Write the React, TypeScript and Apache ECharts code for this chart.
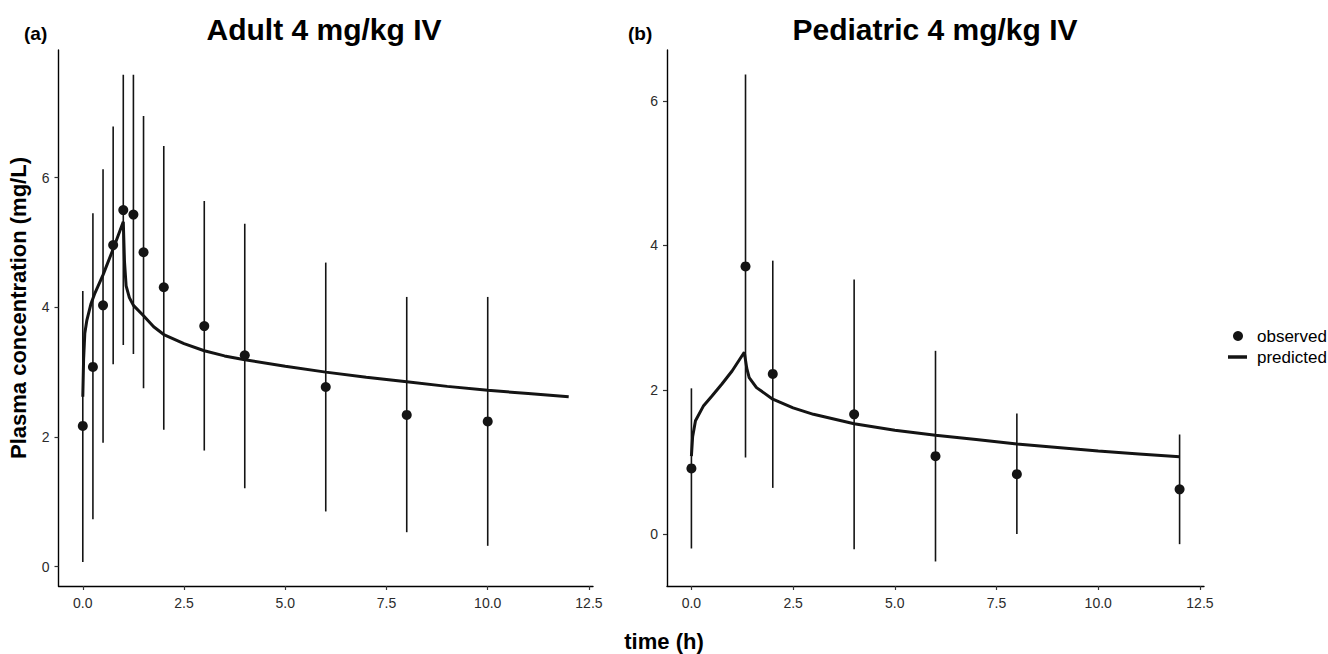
import React, { useEffect, useRef } from "react";
import * as echarts from "echarts";

// Adult 4 mg/kg IV — observed
const adultTime = [0, 0.25, 0.5, 0.75, 1, 1.25, 1.5, 2, 3, 4, 6, 8, 10];
const adultMean = [2.17, 3.08, 4.03, 4.96, 5.5, 5.43, 4.85, 4.31, 3.71, 3.26, 2.77, 2.34, 2.24];
const adultLow = [0.07, 0.73, 1.91, 3.12, 3.42, 3.28, 2.75, 2.11, 1.79, 1.21, 0.85, 0.53, 0.32];
const adultHigh = [4.25, 5.45, 6.13, 6.79, 7.59, 7.59, 6.95, 6.49, 5.64, 5.29, 4.69, 4.16, 4.16];

// Adult predicted
const adultPredTime = [0, 0.02, 0.05, 0.1, 0.2, 0.3, 0.5, 0.75, 1.0, 1.03, 1.07, 1.15, 1.25, 1.5, 1.75, 2, 2.5, 3, 3.5, 4, 5, 6, 7, 8, 9, 10, 11, 12];
const adultPred = [2.62, 3.2, 3.6, 3.8, 4.05, 4.22, 4.5, 4.9, 5.32, 4.7, 4.33, 4.15, 4.03, 3.87, 3.7, 3.58, 3.44, 3.33, 3.25, 3.19, 3.09, 3.0, 2.92, 2.85, 2.78, 2.72, 2.67, 2.62];

// Pediatric 4 mg/kg IV — observed
const pedTime = [0, 1.33, 2, 4, 6, 8, 12];
const pedMean = [0.91, 3.71, 2.22, 1.66, 1.08, 0.83, 0.62];
const pedLow = [-0.2, 1.06, 0.64, -0.21, -0.38, 0.0, -0.14];
const pedHigh = [2.02, 6.37, 3.79, 3.53, 2.54, 1.67, 1.38];

// Pediatric predicted
const pedPredTime = [0, 0.03, 0.1, 0.3, 0.5, 0.75, 1.0, 1.3, 1.36, 1.42, 1.6, 2, 2.5, 3, 4, 5, 6, 7, 8, 9, 10, 11, 12];
const pedPred = [1.08, 1.35, 1.57, 1.78, 1.91, 2.08, 2.26, 2.52, 2.3, 2.17, 2.03, 1.87, 1.75, 1.66, 1.53, 1.44, 1.37, 1.31, 1.25, 1.2, 1.15, 1.11, 1.07];

const xTicks = [0, 2.5, 5, 7.5, 10, 12.5];
const yTicks = [0, 2, 4, 6];

const FONT = "Liberation Sans";
const INK = "#141414";

function makeXAxis(gridIndex: number) {
  return {
    type: "value",
    gridIndex,
    min: -0.6,
    max: 12.6,
    splitLine: { show: false },
    axisLine: { show: true, onZero: false, lineStyle: { color: "#000", width: 1.4 } },
    axisTick: { show: true, length: 4, lineStyle: { color: "#333", width: 1.2 }, customValues: xTicks },
    axisLabel: {
      customValues: xTicks,
      formatter: (v: number) => v.toFixed(1),
      fontSize: 14,
      color: "#2b2b2b",
      margin: 10,
      fontFamily: FONT,
    },
  };
}

function makeYAxis(gridIndex: number, min: number, max: number) {
  return {
    type: "value",
    gridIndex,
    min,
    max,
    splitLine: { show: false },
    axisLine: { show: true, onZero: false, lineStyle: { color: "#000", width: 1.4 } },
    axisTick: { show: true, length: 4, lineStyle: { color: "#333", width: 1.2 }, customValues: yTicks },
    axisLabel: {
      customValues: yTicks,
      formatter: (v: number) => String(v),
      fontSize: 14,
      color: "#2b2b2b",
      margin: 9,
      fontFamily: FONT,
    },
  };
}

function errorSeries(idx: number, t: number[], lo: number[], hi: number[]) {
  return {
    type: "custom",
    xAxisIndex: idx,
    yAxisIndex: idx,
    data: t.map((x, i) => [x, lo[i], hi[i]]),
    encode: { x: 0, y: [1, 2] },
    silent: true,
    renderItem: (params: any, api: any) => {
      const x = api.value(0);
      const p1 = api.coord([x, api.value(1)]);
      const p2 = api.coord([x, api.value(2)]);
      return {
        type: "line",
        shape: { x1: p1[0], y1: p1[1], x2: p2[0], y2: p2[1] },
        style: { stroke: INK, lineWidth: 1.6 },
      };
    },
  };
}

function lineSeries(idx: number, t: number[], v: number[]) {
  return {
    type: "line",
    name: "predicted",
    xAxisIndex: idx,
    yAxisIndex: idx,
    data: t.map((x, i) => [x, v[i]]),
    showSymbol: false,
    smooth: false,
    lineStyle: { color: INK, width: 3, opacity: 1 },
    itemStyle: { color: INK },
    z: 3,
  };
}

function scatterSeries(idx: number, t: number[], v: number[]) {
  return {
    type: "scatter",
    name: "observed",
    xAxisIndex: idx,
    yAxisIndex: idx,
    data: t.map((x, i) => [x, v[i]]),
    symbol: "circle",
    symbolSize: 10,
    itemStyle: { color: INK, opacity: 1 },
    z: 4,
  };
}

export default function App() {
  const ref = useRef<HTMLDivElement>(null);
  useEffect(() => {
    if (!ref.current) return;
    const chart = echarts.init(ref.current, null, { renderer: "svg" });
    chart.setOption({
      animation: false,
      backgroundColor: "#fff",
      grid: [
        { left: 58.5, top: 50, width: 534.5, height: 536 },
        { left: 667, top: 50, width: 537, height: 536 },
      ],
      xAxis: [makeXAxis(0), makeXAxis(1)],
      yAxis: [makeYAxis(0, -0.3, 7.97), makeYAxis(1, -0.72, 6.71)],
      series: [
        errorSeries(0, adultTime, adultLow, adultHigh),
        lineSeries(0, adultPredTime, adultPred),
        scatterSeries(0, adultTime, adultMean),
        errorSeries(1, pedTime, pedLow, pedHigh),
        lineSeries(1, pedPredTime, pedPred),
        scatterSeries(1, pedTime, pedMean),
      ],
      graphic: [
        { type: "text", x: 324, y: 29, style: { text: "Adult 4 mg/kg IV", fontSize: 30, fontWeight: "bold", fontFamily: FONT, fill: "#000", textAlign: "center", textVerticalAlign: "middle" } },
        { type: "text", x: 935, y: 29, style: { text: "Pediatric 4 mg/kg IV", fontSize: 30, fontWeight: "bold", fontFamily: FONT, fill: "#000", textAlign: "center", textVerticalAlign: "middle" } },
        { type: "text", x: 24, y: 33, style: { text: "(a)", fontSize: 19, fontWeight: "bold", fontFamily: FONT, fill: "#000", textAlign: "left", textVerticalAlign: "middle" } },
        { type: "text", x: 628, y: 33, style: { text: "(b)", fontSize: 19, fontWeight: "bold", fontFamily: FONT, fill: "#000", textAlign: "left", textVerticalAlign: "middle" } },
        { type: "text", x: 18, y: 308, rotation: Math.PI / 2, style: { text: "Plasma concentration (mg/L)", fontSize: 22, fontWeight: "bold", fontFamily: FONT, fill: "#000", textAlign: "center", textVerticalAlign: "middle" } },
        { type: "text", x: 664, y: 641, style: { text: "time (h)", fontSize: 22, fontWeight: "bold", fontFamily: FONT, fill: "#000", textAlign: "center", textVerticalAlign: "middle" } },
        { type: "circle", shape: { cx: 1238, cy: 336, r: 5 }, style: { fill: INK } },
        { type: "line", shape: { x1: 1228, y1: 357, x2: 1247, y2: 357 }, style: { stroke: INK, lineWidth: 3.5 } },
        { type: "text", x: 1257, y: 336, style: { text: "observed", fontSize: 17, fontFamily: FONT, fill: "#000", textAlign: "left", textVerticalAlign: "middle" } },
        { type: "text", x: 1257, y: 357, style: { text: "predicted", fontSize: 17, fontFamily: FONT, fill: "#000", textAlign: "left", textVerticalAlign: "middle" } },
      ],
    });
    return () => chart.dispose();
  }, []);
  return (
    <div
      ref={ref}
      style={{ position: "absolute", left: 0, top: 0, width: 1328, height: 654 }}
    />
  );
}
